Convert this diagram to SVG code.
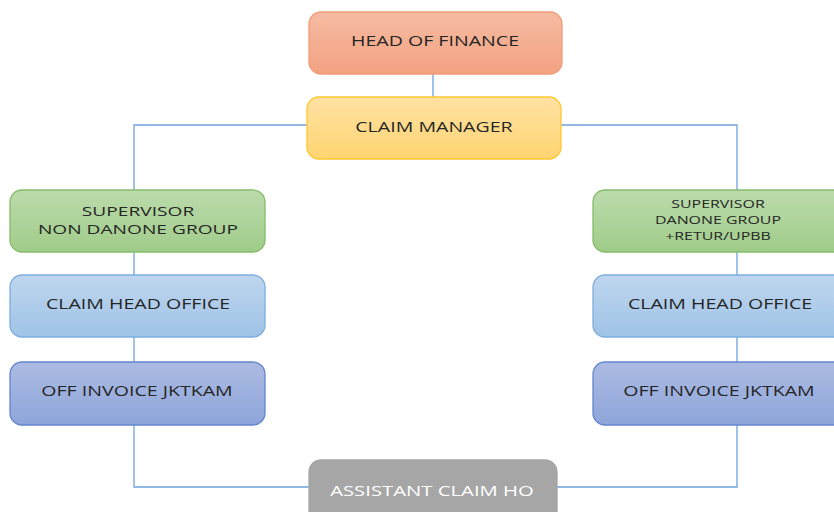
<svg xmlns="http://www.w3.org/2000/svg" width="834" height="512" viewBox="0 0 834 512">
  <defs>
    <linearGradient id="gOrange" x1="0" y1="0" x2="0" y2="1">
      <stop offset="0" stop-color="#F6BBA2"/>
      <stop offset="1" stop-color="#F2A281"/>
    </linearGradient>
    <linearGradient id="gGold" x1="0" y1="0" x2="0" y2="1">
      <stop offset="0" stop-color="#FFE1A3"/>
      <stop offset="1" stop-color="#FFD572"/>
    </linearGradient>
    <linearGradient id="gGreen" x1="0" y1="0" x2="0" y2="1">
      <stop offset="0" stop-color="#BCDBAC"/>
      <stop offset="1" stop-color="#9FCC89"/>
    </linearGradient>
    <linearGradient id="gBlue" x1="0" y1="0" x2="0" y2="1">
      <stop offset="0" stop-color="#BED6EE"/>
      <stop offset="1" stop-color="#9FC3E7"/>
    </linearGradient>
    <linearGradient id="gIndigo" x1="0" y1="0" x2="0" y2="1">
      <stop offset="0" stop-color="#ACBBE2"/>
      <stop offset="1" stop-color="#8EA5DA"/>
    </linearGradient>
  </defs>
  <style>
    .box { stroke-width: 1.3; }
    .orange { fill: url(#gOrange); stroke: #F19C78; }
    .gold { fill: url(#gGold); stroke: #FFC62E; }
    .green { fill: url(#gGreen); stroke: #86BC6A; }
    .blue { fill: url(#gBlue); stroke: #7DAEDF; }
    .indigo { fill: url(#gIndigo); stroke: #6585CF; }
    .grey { fill: #A6A6A6; stroke: #A6A6A6; }
    .label { font-family: "Open Sans", "Liberation Sans", sans-serif; font-size: 14px; fill: #262626; text-anchor: middle; dominant-baseline: central; }
    .mid { font-size: 13.5px; }
    .small { font-size: 11px; }
    .light { fill: #FFFFFF; }
    .link { fill: none; stroke: #6FA3DA; stroke-width: 1.3; }
  </style>

  <rect width="834" height="512" fill="#FFFFFF"/>

  <!-- connectors -->
  <g id="connectors">
    <path class="link" d="M433 74 V97"/>
    <path class="link" d="M307 125 H134 V190"/>
    <path class="link" d="M561 125 H737 V190"/>
    <path class="link" d="M134 252 V275"/>
    <path class="link" d="M134 337 V362"/>
    <path class="link" d="M737 252 V275"/>
    <path class="link" d="M737 337 V362"/>
    <path class="link" d="M134 425 V487 H309"/>
    <path class="link" d="M737 425 V487 H557"/>
  </g>

  <!-- labels are widened horizontally to the wide lettering of the chart -->
  <g id="head-of-finance">
    <rect class="box orange" x="309" y="12" width="253" height="62" rx="12"/>
    <text class="label" transform="translate(435 41) scale(1.4 1)">HEAD OF FINANCE</text>
  </g>

  <g id="claim-manager">
    <rect class="box gold" x="307" y="97" width="254" height="62" rx="12"/>
    <text class="label" transform="translate(434 127) scale(1.4 1)">CLAIM MANAGER</text>
  </g>

  <g id="supervisor-non-danone">
    <rect class="box green" x="10" y="190" width="255" height="62" rx="12"/>
    <text class="label mid" transform="translate(138 210.5) scale(1.42 1)">SUPERVISOR</text>
    <text class="label mid" transform="translate(138 229) scale(1.42 1)">NON DANONE GROUP</text>
  </g>

  <g id="claim-head-office-left">
    <rect class="box blue" x="10" y="275" width="255" height="62" rx="12"/>
    <text class="label" transform="translate(138 304) scale(1.4 1)">CLAIM HEAD OFFICE</text>
  </g>

  <g id="off-invoice-left">
    <rect class="box indigo" x="10" y="362" width="255" height="63" rx="12"/>
    <text class="label" transform="translate(137 391) scale(1.4 1)">OFF INVOICE JKTKAM</text>
  </g>

  <g id="supervisor-danone">
    <rect class="box green" x="593" y="190" width="255" height="62" rx="12"/>
    <text class="label small" transform="translate(718 203.5) scale(1.45 1)">SUPERVISOR</text>
    <text class="label small" transform="translate(718 219.5) scale(1.45 1)">DANONE GROUP</text>
    <text class="label small" transform="translate(718 236) scale(1.45 1)">+RETUR/UPBB</text>
  </g>

  <g id="claim-head-office-right">
    <rect class="box blue" x="593" y="275" width="255" height="62" rx="12"/>
    <text class="label" transform="translate(720 304) scale(1.4 1)">CLAIM HEAD OFFICE</text>
  </g>

  <g id="off-invoice-right">
    <rect class="box indigo" x="593" y="362" width="255" height="63" rx="12"/>
    <text class="label" transform="translate(719 391) scale(1.4 1)">OFF INVOICE JKTKAM</text>
  </g>

  <g id="assistant-claim-ho">
    <rect class="box grey" x="309" y="460" width="248" height="70" rx="12"/>
    <text class="label light" transform="translate(432 490) scale(1.45 1)">ASSISTANT CLAIM HO</text>
  </g>
</svg>
